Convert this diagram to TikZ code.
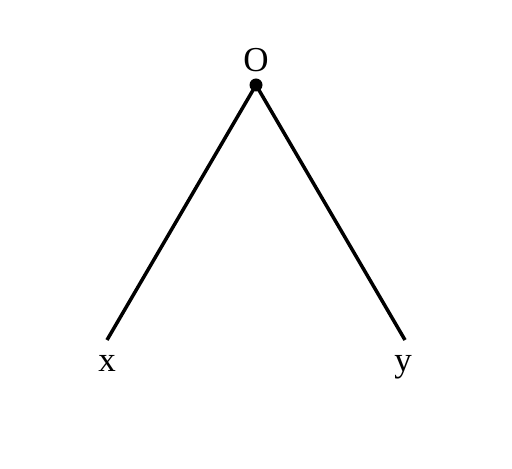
\documentclass[tikz,border=0pt]{standalone}
\usepackage{fontspec}
\setmainfont{Liberation Serif}
\begin{document}
\begin{tikzpicture}[x=1pt,y=1pt,font=\fontsize{35}{40}\selectfont]
		\useasboundingbox (0,0) rectangle (512,469);
		\coordinate (O) at (256,384) node[anchor=base] (lO) at (256,397) {O};
		\coordinate (X) at (107,129) node[anchor=base] (lX) at (107,97) {x};
		\coordinate (Y) at (405,129) node[anchor=base] (lY) at (403,97) {y};
		\draw [line width=3.5pt] (X)--(O)--(Y);
		\fill (O) circle (6.5);
	\end{tikzpicture}
\end{document}
